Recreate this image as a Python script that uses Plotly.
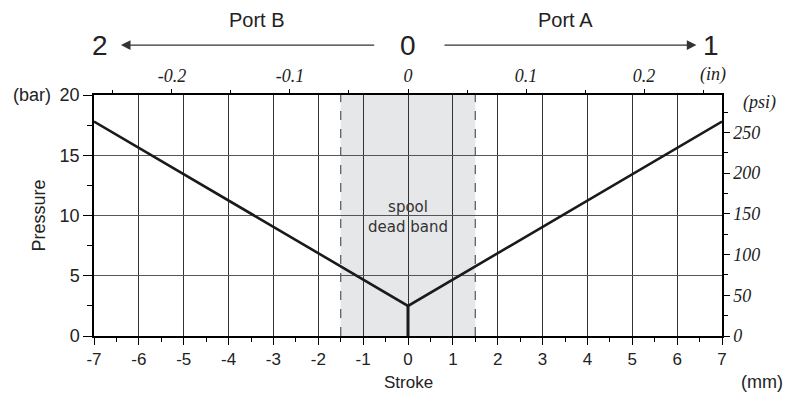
import plotly.graph_objects as go

# ------------------------------------------------------------------ #
# Data
# ------------------------------------------------------------------ #

stroke_mm = [-7, 0, 7]
pressure_bar = [17.8, 2.5, 17.8]

stem_mm = [0, 0]
stem_bar = [0, 2.5]

dead_band_mm = [-1.5, 1.5]

stroke_ticks = [-7, -6, -5, -4, -3, -2, -1, 0, 1, 2, 3, 4, 5, 6, 7]
stroke_labels = ["-7", "-6", "-5", "-4", "-3", "-2", "-1", "0",
                 "1", "2", "3", "4", "5", "6", "7"]

pressure_ticks = [0, 5, 10, 15, 20]
pressure_labels = ["0", "5", "10", "15", "20"]

inch_ticks = [-0.2, -0.1, 0, 0.1, 0.2]
inch_labels = ["-0.2", "-0.1", "0", "0.1", "0.2"]
inch_minor = [-0.25, -0.15, -0.05, 0.05, 0.15, 0.25]
inch_range = [-0.266, 0.266]   # as drawn in the reference

psi_ticks = [0, 50, 100, 150, 200, 250]
psi_labels = ["0", "50", "100", "150", "200", "250"]
psi_range = [0, 296]           # as drawn in the reference

SANS = "Liberation Sans, Arial, sans-serif"
SERIF = "Liberation Serif, Times New Roman, serif"
INK = "#222222"

fig = go.Figure()

fig.add_trace(
    go.Scatter(
        x=stroke_mm,
        y=pressure_bar,
        mode="lines",
        line=dict(color="#1a1a1a", width=2.6),
        hoverinfo="skip",
    )
)

fig.add_trace(
    go.Scatter(
        x=stem_mm,
        y=stem_bar,
        mode="lines",
        line=dict(color="#1a1a1a", width=3),
        hoverinfo="skip",
    )
)

# anchor trace so the secondary axes are drawn
fig.add_trace(
    go.Scatter(
        x=[0],
        y=[0],
        xaxis="x2",
        yaxis="y2",
        mode="markers",
        marker=dict(opacity=0),
        hoverinfo="skip",
    )
)

# dead band
fig.add_shape(
    type="rect",
    x0=dead_band_mm[0], x1=dead_band_mm[1], y0=0, y1=20,
    xref="x", yref="y",
    fillcolor="#e6e7e9", line=dict(width=0), layer="below",
)
for edge in dead_band_mm:
    fig.add_shape(
        type="line",
        x0=edge, x1=edge, y0=0, y1=20,
        xref="x", yref="y",
        line=dict(color="#555555", width=1.2, dash="dash"),
    )

# the page body adds an 8px offset, so the figure is drawn 8px smaller
fig.update_layout(
    width=785,
    height=387,
    margin=dict(l=86, r=71, t=87, b=59),
    plot_bgcolor="white",
    paper_bgcolor="white",
    showlegend=False,
    font=dict(family=SANS, color=INK),
    xaxis=dict(
        range=[-7, 7],
        tickvals=stroke_ticks,
        ticktext=stroke_labels,
        ticks="outside",
        ticklen=7,
        tickcolor="black",
        tickfont=dict(size=17, family=SANS, color=INK),
        showgrid=True,
        gridcolor="#333333",
        gridwidth=1,
        showline=True,
        linecolor="black",
        linewidth=1.5,
        zeroline=False,
        minor=dict(dtick=0.5, ticks="outside", ticklen=4, tickcolor="black",
                   showgrid=False),
    ),
    yaxis=dict(
        range=[0, 20],
        tickvals=pressure_ticks,
        ticktext=pressure_labels,
        ticks="outside",
        ticklen=9,
        tickcolor="black",
        tickfont=dict(size=18, family=SANS, color=INK),
        showgrid=True,
        gridcolor="#555555",
        gridwidth=1,
        showline=True,
        linecolor="black",
        linewidth=1.5,
        zeroline=False,
        minor=dict(dtick=2.5, ticks="outside", ticklen=5, tickcolor="black",
                   showgrid=False),
    ),
    xaxis2=dict(
        overlaying="x",
        side="top",
        range=inch_range,
        tickvals=inch_ticks,
        ticktext=inch_labels,
        ticks="outside",
        ticklen=4,
        tickcolor="black",
        tickfont=dict(size=18, family=SERIF, color=INK, style="italic"),
        showgrid=False,
        showline=True,
        linecolor="black",
        linewidth=1.5,
        zeroline=False,
        minor=dict(tickvals=inch_minor, ticks="outside", ticklen=3,
                   tickcolor="black"),
    ),
    yaxis2=dict(
        overlaying="y",
        side="right",
        range=psi_range,
        tickvals=psi_ticks,
        ticktext=psi_labels,
        ticks="outside",
        ticklen=6,
        tickcolor="black",
        tickfont=dict(size=18, family=SERIF, color=INK, style="italic"),
        showgrid=False,
        showline=True,
        linecolor="black",
        linewidth=1.5,
        zeroline=False,
        minor=dict(dtick=25, ticks="outside", ticklen=4, tickcolor="black"),
    ),
)


def label(x, y, text, font, xref="paper", yref="paper", **kw):
    fig.add_annotation(x=x, y=y, xref=xref, yref=yref, text=text,
                       showarrow=False, xanchor=kw.pop("xanchor", "center"),
                       yanchor="middle", font=font, **kw)


# ------------------------------------------------------------------ #
# Header: ports and direction arrows
# ------------------------------------------------------------------ #

header_y = 1.207
big = dict(family=SANS, size=28, color=INK)

for x, text in [(-6.86, "2"), (0, "0"), (6.76, "1")]:
    label(x, header_y, text, big, xref="x")

for x, text in [(-3.36, "Port B"), (3.5, "Port A")]:
    label(x, 1.311, text, dict(family=SANS, size=20, color=INK), xref="x")

for tip, tail in [(-6.4, -0.72), (6.43, 0.78)]:
    fig.add_annotation(
        x=tip, y=header_y, xref="x", yref="paper",
        ax=tail, ay=0, axref="x", ayref="pixel",
        text="", showarrow=True,
        arrowhead=2, arrowsize=1.6, arrowwidth=1.2, arrowcolor="#333333",
    )

# ------------------------------------------------------------------ #
# Axis titles and units
# ------------------------------------------------------------------ #

label(-0.065, 1.0, "(bar)", dict(family=SANS, size=18, color=INK),
      xanchor="right")
label(-0.089, 0.5, "Pressure", dict(family=SANS, size=18, color=INK),
      textangle=-90)
label(0, -0.195, "Stroke", dict(family=SANS, size=17, color=INK), xref="x")
label(1.064, -0.19, "(mm)", dict(family=SANS, size=18, color=INK))
label(1.059, 0.967, "(psi)",
      dict(family=SERIF, size=18, color=INK, style="italic"))
label(0.986, 1.083, "(in)",
      dict(family=SERIF, size=18, color=INK, style="italic"))

label(0, 9.9, "spool<br>dead band",
      dict(family="DejaVu Sans, Verdana, sans-serif", size=15, color="#333333"),
      xref="x", yref="y")

fig.write_html("out.html")
